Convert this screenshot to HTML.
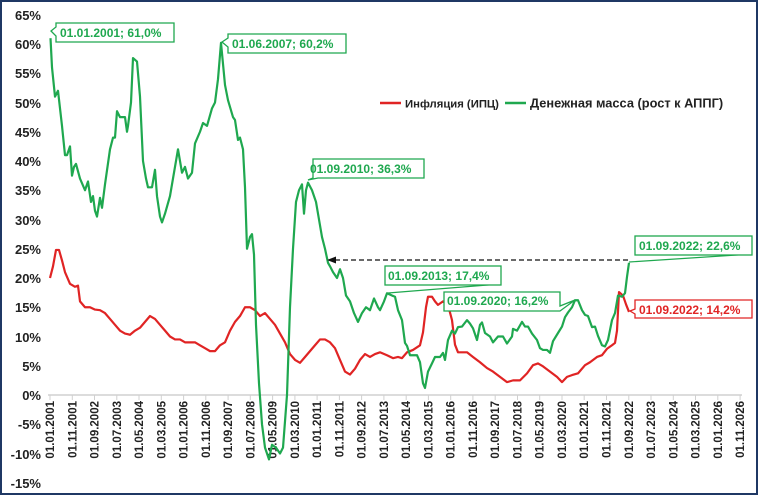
<!DOCTYPE html>
<html><head><meta charset="utf-8"><style>
html,body{margin:0;padding:0;background:#fff}
svg{display:block;font-family:"Liberation Sans",sans-serif;font-weight:bold}
</style></head><body>
<svg width="758" height="495" viewBox="0 0 758 495" xmlns="http://www.w3.org/2000/svg">
<rect x="1" y="1" width="756" height="493" fill="#fff" stroke="#1f3864" stroke-width="2"/>
<g font-size="13" fill="#222" text-anchor="end">
<text x="41" y="20">65%</text><text x="41" y="49">60%</text><text x="41" y="78">55%</text><text x="41" y="108">50%</text><text x="41" y="137">45%</text><text x="41" y="166">40%</text><text x="41" y="195">35%</text><text x="41" y="225">30%</text><text x="41" y="254">25%</text><text x="41" y="283">20%</text><text x="41" y="312">15%</text><text x="41" y="342">10%</text><text x="41" y="371">5%</text><text x="41" y="400">0%</text><text x="41" y="429">-5%</text><text x="41" y="459">-10%</text><text x="41" y="488">-15%</text>
</g>
<line x1="48" y1="395" x2="742" y2="395" stroke="#d0d0d0" stroke-width="1.5"/>
<g stroke="#d0d0d0" stroke-width="1">
<path d="M50 395v5M72.3 395v5M94.5 395v5M116.8 395v5M139 395v5M161.3 395v5M183.6 395v5M205.8 395v5M228.1 395v5M250.3 395v5M272.6 395v5M294.9 395v5M317.1 395v5M339.4 395v5M361.6 395v5M383.9 395v5M406.2 395v5M428.4 395v5M450.7 395v5M472.9 395v5M495.2 395v5M517.5 395v5M539.7 395v5M562 395v5M584.2 395v5M606.5 395v5M628.8 395v5M651 395v5M673.3 395v5M695.5 395v5M717.8 395v5M740.1 395v5"/>
</g>
<g font-size="11.5" fill="#222" text-anchor="end">
<text transform="translate(54,401) rotate(-90)">01.01.2001</text>
<text transform="translate(76.3,401) rotate(-90)">01.11.2001</text>
<text transform="translate(98.5,401) rotate(-90)">01.09.2002</text>
<text transform="translate(120.8,401) rotate(-90)">01.07.2003</text>
<text transform="translate(143,401) rotate(-90)">01.05.2004</text>
<text transform="translate(165.3,401) rotate(-90)">01.03.2005</text>
<text transform="translate(187.6,401) rotate(-90)">01.01.2006</text>
<text transform="translate(209.8,401) rotate(-90)">01.11.2006</text>
<text transform="translate(232.1,401) rotate(-90)">01.09.2007</text>
<text transform="translate(254.3,401) rotate(-90)">01.07.2008</text>
<text transform="translate(276.6,401) rotate(-90)">01.05.2009</text>
<text transform="translate(298.9,401) rotate(-90)">01.03.2010</text>
<text transform="translate(321.1,401) rotate(-90)">01.01.2011</text>
<text transform="translate(343.4,401) rotate(-90)">01.11.2011</text>
<text transform="translate(365.6,401) rotate(-90)">01.09.2012</text>
<text transform="translate(387.9,401) rotate(-90)">01.07.2013</text>
<text transform="translate(410.2,401) rotate(-90)">01.05.2014</text>
<text transform="translate(432.4,401) rotate(-90)">01.03.2015</text>
<text transform="translate(454.7,401) rotate(-90)">01.01.2016</text>
<text transform="translate(476.9,401) rotate(-90)">01.11.2016</text>
<text transform="translate(499.2,401) rotate(-90)">01.09.2017</text>
<text transform="translate(521.5,401) rotate(-90)">01.07.2018</text>
<text transform="translate(543.7,401) rotate(-90)">01.05.2019</text>
<text transform="translate(566,401) rotate(-90)">01.03.2020</text>
<text transform="translate(588.2,401) rotate(-90)">01.01.2021</text>
<text transform="translate(610.5,401) rotate(-90)">01.11.2021</text>
<text transform="translate(632.8,401) rotate(-90)">01.09.2022</text>
<text transform="translate(655,401) rotate(-90)">01.07.2023</text>
<text transform="translate(677.3,401) rotate(-90)">01.05.2024</text>
<text transform="translate(699.5,401) rotate(-90)">01.03.2025</text>
<text transform="translate(721.8,401) rotate(-90)">01.01.2026</text>
<text transform="translate(744.1,401) rotate(-90)">01.11.2026</text>
</g>
<g transform="translate(0,395) scale(1,-5.85)" fill="none" stroke-width="2.2" stroke-linejoin="round">
<polyline vector-effect="non-scaling-stroke" stroke="#e02424" points="50,20 53,22 56,24.8 59,24.8 62,23 65,21 70,19 75,18.5 78,18.7 80,16 85,15 90,15 95,14.6 100,14.5 105,14 110,13 115,12 120,11 125,10.5 130,10.3 135,11 140,11.5 145,12.5 150,13.5 155,13 160,12 165,11 170,10 175,9.5 180,9.5 185,9 190,9 195,9 200,8.5 205,8 210,7.5 215,7.5 220,8.5 225,9 230,11 235,12.5 240,13.5 245,15 250,15 255,14.5 260,13.5 265,14 270,13 275,12 280,10.5 285,9 290,7 295,6 300,5.5 305,6.5 310,7.5 315,8.5 320,9.5 325,9.5 330,9 335,8 340,6 345,4 350,3.5 355,4.5 360,6 365,7 370,6.5 375,7 380,7.3 387,6.8 393,6.3 398,6.5 402,6.3 407,7.3 413,7.7 420,8.5 423,10.7 426,15 428,16.8 432,16.8 435,16 438,15.4 443,16 448,15.4 452,12.8 455,8.6 458,7.3 467,7.3 473,6.5 480,5.6 487,4.6 493,4 500,3.1 507,2.2 513,2.5 520,2.5 527,3.7 533,5.1 538,5.4 543,4.9 550,4 557,3.1 562,2.2 567,3.1 572,3.4 578,3.7 585,5.1 590,5.6 597,6.5 602,6.8 607,7.9 612,8.5 615,8.9 617,11 619,17.6 623,17 626,15.5 629,14.2"/>
<polyline vector-effect="non-scaling-stroke" stroke="#1fa84f" points="50.5,61 52,56 55,51 58,52 62,46 65,41 67,41 70,42.5 72,37.5 74,39 76,39.5 80,37 85,35 88,36.5 91,33 93,34 95,31.5 97,30.5 100,33.7 102,32 105,36 110,42 113,44 115,44 117,48.5 120,47.5 125,47.5 127,45 128,46 131,50 133,57.6 137,57 140,51 143,40 146,37 148,35.5 152,35.5 155,38.5 157,34 160,30.5 162,29.5 165,31 170,34 175,39 178,42 182,38 185,39 188,37 192,38 195,43 200,45 203,46.5 207,46 212,49 215,50 218,54 221,60.2 225,53 228,50.4 233,47.5 235,47 238,43.6 240,44 243,42 245,35.5 247,25 250,27 252,27.5 254,24 256,12 259,2 262,-5 265,-9 269,-11 272,-8.5 276,-9 280,-10 283,-9 287,0 290,15 293,25 296,33 299,35 302,36 304,31 306,35 308,36.3 312,35 316,33 319,30 322,27 325,25 328,22.6 330,22 333,21 337,20 340,21.5 343,20 346,17 350,16 354,14 358,12.5 362,14 366,15 370,14.5 374,16.5 378,15 380,14.5 384,16 387,17.4 392,17 395,16.8 398,14.5 402,12.8 405,8.9 407,8.4 410,6.8 417,6.8 420,5.6 423,2 425,1.2 428,4 432,5.4 435,6.5 440,6.5 443,7.2 445,6 448,9.4 452,11 455,10.5 458,11.6 462,11.7 467,12.8 470,12.2 473,11.4 477,9.4 480,12 482,12.4 485,10.6 490,10 493,9 498,10 503,10 507,8.8 512,10 513,11.3 517,11 522,12.5 525,11.7 528,11.7 532,10.5 537,9.4 540,8 543,7.7 547,7.7 550,7.2 553,9.2 558,10.6 562,11.7 565,13.3 568,14.1 572,15 575,16.2 578,16.2 582,14.5 585,13.7 588,13.5 592,11.6 595,11.7 598,10.1 602,8.5 605,8.3 608,9.4 612,12.8 615,14 618,17 622,16.8 625,17.4 627,20.2 629,22.6"/>
</g>
<line x1="628" y1="260" x2="335" y2="260" stroke="#111" stroke-width="1.3" stroke-dasharray="5,3"/>
<polygon points="327,260 336,256.5 336,263.5" fill="#111"/>
<line x1="380" y1="103" x2="401" y2="103" stroke="#e02424" stroke-width="2.5"/>
<text x="405" y="107.5" font-size="11.3" fill="#222">Инфляция (ИПЦ)</text>
<line x1="505" y1="103" x2="526" y2="103" stroke="#1fa84f" stroke-width="2.5"/>
<text x="530" y="107.5" font-size="12.8" fill="#222">Денежная масса (рост к АППГ)</text>
<g font-size="12" fill="#1fa84f">
<path d="M51 31 L56 27 V23 H174 V42 H56 V36 Z" fill="#fff" stroke="#1fa84f" stroke-width="1.3"/>
<text x="60" y="37">01.01.2001; 61,0%</text>
<path d="M222 42 L228 38 V34 H346 V53 H228 V47 Z" fill="#fff" stroke="#1fa84f" stroke-width="1.3"/>
<text x="232" y="48">01.06.2007; 60,2%</text>
<path d="M308 180 L313 178 V159 H424 V178 H318 Z" fill="#fff" stroke="#1fa84f" stroke-width="1.3"/>
<text x="310" y="173">01.09.2010; 36,3%</text>
<line x1="388" y1="293" x2="500" y2="284" stroke="#1fa84f" stroke-width="1.2"/>
<rect x="385" y="266" width="116" height="19" fill="#fff" stroke="#1fa84f" stroke-width="1.3"/>
<text x="388" y="280">01.09.2013; 17,4%</text>
<path d="M575 300 L560 306 V292 H444 V311 H560 Z" fill="#fff" stroke="#1fa84f" stroke-width="1.3"/>
<text x="447" y="305">01.09.2020; 16,2%</text>
<line x1="629" y1="262" x2="752" y2="254" stroke="#1fa84f" stroke-width="1.2"/>
<rect x="635" y="236" width="117" height="19" fill="#fff" stroke="#1fa84f" stroke-width="1.3"/>
<text x="639" y="250">01.09.2022; 22,6%</text>
</g>
<g font-size="12" fill="#e02424">
<path d="M630 311 L635 309 V300 H752 V318 H635 V314 Z" fill="#fff" stroke="#e02424" stroke-width="1.3"/>
<text x="639" y="314">01.09.2022; 14,2%</text>
</g>
</svg>
</body></html>
